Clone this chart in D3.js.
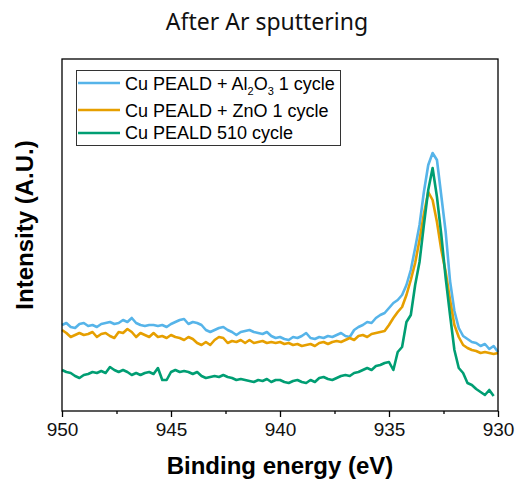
<!DOCTYPE html>
<html>
<head>
<meta charset="utf-8">
<script src="https://cdn.jsdelivr.net/npm/d3@7"></script>
<style>
    body { margin: 0; background: #fff; }
    svg { display: block; }
</style>
</head>
<body>
<svg id="chart"></svg>
<script>
// binding energy grid (eV), 0.2 eV step
const energy = [
    950.0, 949.8, 949.6, 949.4, 949.2, 949.0, 948.8, 948.6, 948.4, 948.2,
    948.0, 947.8, 947.6, 947.4, 947.2, 947.0, 946.8, 946.6, 946.4, 946.2,
    946.0, 945.8, 945.6, 945.4, 945.2, 945.0, 944.8, 944.6, 944.4, 944.2,
    944.0, 943.8, 943.6, 943.4, 943.2, 943.0, 942.8, 942.6, 942.4, 942.2,
    942.0, 941.8, 941.6, 941.4, 941.2, 941.0, 940.8, 940.6, 940.4, 940.2,
    940.0, 939.8, 939.6, 939.4, 939.2, 939.0, 938.8, 938.6, 938.4, 938.2,
    938.0, 937.8, 937.6, 937.4, 937.2, 937.0, 936.8, 936.6, 936.4, 936.2,
    936.0, 935.8, 935.6, 935.4, 935.2, 935.0, 934.8, 934.6, 934.4, 934.2,
    934.0, 933.8, 933.6, 933.4, 933.2, 933.0, 932.8, 932.6, 932.4, 932.2,
    932.0, 931.8, 931.6, 931.4, 931.2, 931.0, 930.8, 930.6, 930.4, 930.2,
    930.0
];

// Cu PEALD + Al2O3 1 cycle
const al2o3 = [
    86, 88, 84, 83, 87, 88, 85, 86, 84, 87,
    88, 89, 87, 88, 91, 89, 93, 88, 86, 85,
    86, 86, 85, 86, 84, 87, 89, 91, 92, 87,
    89, 88, 86, 81, 79, 81, 83, 84, 81, 79,
    76, 79, 80, 81, 79, 78, 77, 79, 75, 73,
    74, 72, 71, 74, 73, 75, 78, 73, 72, 74,
    73, 75, 74, 76, 78, 75, 74, 81, 84, 86,
    89, 88, 93, 96, 98, 103, 108, 111, 116, 126,
    141, 163, 186, 219, 246, 258, 251, 215, 179, 130,
    100, 83, 75, 72, 69, 68, 65, 67, 62, 65,
    59
];

// Cu PEALD + ZnO 1 cycle
const zno = [
    81, 78, 74, 76, 78, 76, 77, 79, 74, 77,
    78, 75, 73, 79, 78, 82, 79, 74, 78, 76,
    74, 78, 74, 75, 73, 76, 74, 73, 71, 74,
    72, 68, 66, 69, 66, 71, 74, 73, 68, 70,
    69, 71, 68, 71, 68, 69, 70, 68, 69, 68,
    69, 67, 68, 66, 67, 65, 66, 67, 65, 68,
    69, 67, 69, 70, 69, 71, 73, 71, 75, 76,
    74, 77, 78, 79, 80, 86, 93, 99, 104, 116,
    131, 148, 171, 197, 219, 211, 189, 161, 139, 111,
    86, 74, 66, 63, 61, 60, 58, 59, 58, 57,
    58
];

// Cu PEALD 510 cycle (scan stops before 930 eV)
const cu510 = [
    41, 39, 38, 35, 33, 36, 37, 39, 38, 40,
    38, 44, 41, 39, 41, 39, 36, 38, 36, 38,
    39, 37, 43, 31, 31, 39, 41, 39, 40, 39,
    37, 39, 35, 33, 34, 35, 34, 36, 34, 33,
    31, 32, 31, 30, 29, 31, 30, 32, 29, 31,
    31, 29, 28, 30, 31, 29, 28, 31, 29, 33,
    34, 32, 31, 33, 35, 36, 35, 38, 39, 41,
    43, 41, 45, 46, 48, 49, 41, 59, 64, 89,
    96, 126, 149, 186, 221, 243, 214, 176, 133, 96,
    61, 43, 38, 28, 26, 22, 19, 16, 21, 15,
    null
];

const seriesNames = ['Cu PEALD + Al\u2082O\u2083 1 cycle', 'Cu PEALD + ZnO 1 cycle', 'Cu PEALD 510 cycle'];
const seriesColors = ['#56b4e9', '#e69f00', '#009e73'];
const xTicks = [950, 945, 940, 935, 930];

function drawChart() {
    const width = 517;
    const height = 481;
    const margin = { top: 59, right: 19, bottom: 70, left: 62 };

    const svg = d3.select('#chart')
        .attr('width', width)
        .attr('height', height);

    const x = d3.scaleLinear()
        .domain([950, 930])
        .range([margin.left, width - margin.right]);
    const y = d3.scaleLinear()
        .domain([0, 352])
        .range([height - margin.bottom, margin.top]);

    // title
    svg.append('text')
        .attr('x', 267)
        .attr('y', 30)
        .attr('text-anchor', 'middle')
        .style('font-family', '"Noto Sans", sans-serif')
        .style('font-size', '23px')
        .attr('fill', '#111')
        .text('After Ar sputtering');

    // series
    const allSeries = [al2o3, zno, cu510];
    const line = d3.line()
        .defined(function (d) { return d[1] != null; })
        .x(function (d) { return x(d[0]); })
        .y(function (d) { return y(d[1]); });

    allSeries.forEach(function (values, i) {
        const pts = energy.map(function (e, j) { return [e, values[j]]; });
        svg.append('path')
            .datum(pts)
            .attr('fill', 'none')
            .attr('stroke', seriesColors[i])
            .attr('stroke-width', 2.6)
            .attr('stroke-linejoin', 'round')
            .attr('d', line);
    });

    // frame
    svg.append('rect')
        .attr('x', margin.left)
        .attr('y', margin.top)
        .attr('width', width - margin.left - margin.right)
        .attr('height', height - margin.top - margin.bottom)
        .attr('fill', 'none')
        .attr('stroke', '#000')
        .attr('stroke-width', 1.3);

    // x axis, major + minor ticks
    const xAxis = d3.axisBottom(x)
        .tickValues(xTicks)
        .tickSize(6)
        .tickSizeOuter(0)
        .tickFormat(d3.format('d'));
    const gx = svg.append('g')
        .attr('transform', 'translate(0,' + (height - margin.bottom) + ')')
        .call(xAxis);
    gx.select('.domain').remove();
    gx.selectAll('.tick line').attr('stroke-width', 1.3);
    gx.selectAll('.tick text')
        .attr('y', 12)
        .attr('dy', '0.71em')
        .style('font-family', '"Liberation Sans", Arial, sans-serif')
        .style('font-size', '19px')
        .attr('fill', '#111');

    const minor = svg.append('g')
        .attr('transform', 'translate(0,' + (height - margin.bottom) + ')')
        .call(d3.axisBottom(x).tickValues([947.5, 942.5, 937.5, 932.5]).tickSize(3).tickFormat(''));
    minor.select('.domain').remove();
    minor.selectAll('.tick line').attr('stroke-width', 1.3);

    // axis titles
    svg.append('text')
        .attr('x', 280)
        .attr('y', 474)
        .attr('text-anchor', 'middle')
        .style('font-family', '"Liberation Sans", Arial, sans-serif')
        .style('font-size', '24px')
        .style('font-weight', 'bold')
        .text('Binding energy (eV)');

    svg.append('text')
        .attr('transform', 'translate(33,225) rotate(-90)')
        .attr('text-anchor', 'middle')
        .style('font-family', '"Liberation Sans", Arial, sans-serif')
        .style('font-size', '24px')
        .style('font-weight', 'bold')
        .text('Intensity (A.U.)');

    // legend
    const legend = svg.append('g');
    legend.append('rect')
        .attr('x', 76.5)
        .attr('y', 70.5)
        .attr('width', 264)
        .attr('height', 75)
        .attr('fill', '#fff')
        .attr('stroke', '#333')
        .attr('stroke-width', 1);

    const rowLineY = [83, 110, 133];
    const rowTextY = [89.5, 117, 139];

    seriesNames.forEach(function (name, i) {
        legend.append('line')
            .attr('x1', 78).attr('x2', 120)
            .attr('y1', rowLineY[i]).attr('y2', rowLineY[i])
            .attr('stroke', seriesColors[i])
            .attr('stroke-width', 2.6);

        const t = legend.append('text')
            .attr('x', 125)
            .attr('y', rowTextY[i])
            .style('font-family', '"Liberation Sans", Arial, sans-serif')
            .style('font-size', '18px')
            .attr('fill', '#000');

        if (i === 0) {
            // Al2O3 with real subscripts
            t.append('tspan').text('Cu PEALD + Al');
            t.append('tspan').attr('dy', 5).style('font-size', '11px').text('2');
            t.append('tspan').attr('dy', -5).text('O');
            t.append('tspan').attr('dy', 5).style('font-size', '11px').text('3');
            t.append('tspan').attr('dy', -5).text(' 1 cycle');
        } else {
            t.text(name);
        }
    });
}

drawChart();
</script>
</body>
</html>
